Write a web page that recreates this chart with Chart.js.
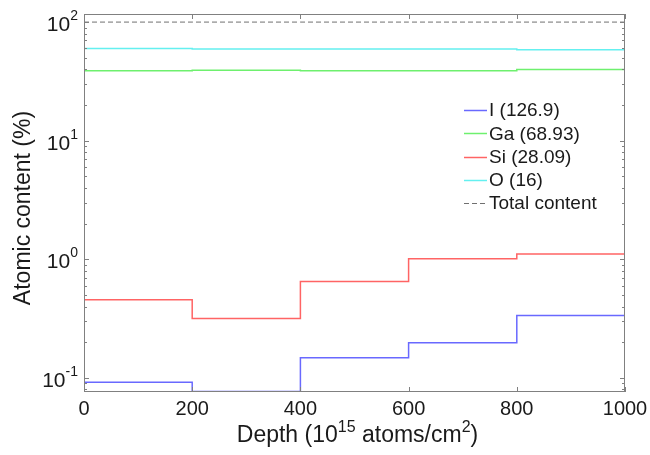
<!DOCTYPE html>
<html lang="en">
<head>
<meta charset="UTF-8">
<title>Atomic content vs depth</title>
<style>
    body { margin: 0; background: white; }
    #wrap { width: 650px; height: 455px; }
</style>
<script src="https://cdn.jsdelivr.net/npm/chart.js"></script>
</head>
<body>
<div id="wrap"><canvas id="depthChart" width="650" height="455"></canvas></div>
<script>
// layer boundaries (10^15 atoms/cm2) and the content of each layer (%)
const depthEdges = [0, 200, 400, 600, 800, 1000];
const iodine   = [0.092, 0.077, 0.148, 0.198, 0.336];
const gallium  = [38.9, 39.3, 38.9, 38.9, 39.9];
const silicon  = [0.457, 0.318, 0.652, 1.01, 1.11];
const oxygen   = [60.0, 59.2, 59.2, 59.2, 58.4];
const total    = [100, 100, 100, 100, 100];
const seriesNames = ['I (126.9)', 'Ga (68.93)', 'Si (28.09)', 'O (16)', 'Total content'];
const xTickValues = [0, 200, 400, 600, 800, 1000];
const yDecades = [-1, 0, 1, 2];

const FONT = 'Arial, "Liberation Sans", sans-serif';
const TEXT = '#1a1a1a';

// each layer value holds from its left edge to the next edge
function stepPoints(values) {
    const pts = values.map((v, i) => ({ x: depthEdges[i], y: v }));
    pts.push({ x: depthEdges[values.length], y: values[values.length - 1] });
    return pts;
}

function drawSuper(ctx, parts, x, y, align) {
    // parts: [text, size, raise]
    let w = 0;
    parts.forEach(p => { ctx.font = p[1] + 'px ' + FONT; w += ctx.measureText(p[0]).width; });
    let cx = align === 'right' ? x - w : align === 'center' ? x - w / 2 : x;
    parts.forEach(p => {
        ctx.font = p[1] + 'px ' + FONT;
        ctx.fillText(p[0], cx, y - p[2]);
        cx += ctx.measureText(p[0]).width;
    });
}

const axesPlugin = {
    id: 'matlabAxes',
    afterDatasetsDraw(chart) {
        const { ctx, chartArea: a, scales: { x, y } } = chart;
        ctx.save();
        ctx.strokeStyle = '#808080';
        ctx.lineWidth = 1;
        ctx.setLineDash([]);
        ctx.strokeRect(a.left + 0.5, a.top + 0.5, a.right - a.left - 1, a.bottom - a.top - 1);

        // x ticks, inside, top and bottom
        ctx.beginPath();
        xTickValues.forEach(v => {
            const px = Math.round(x.getPixelForValue(v)) + 0.5;
            ctx.moveTo(px, a.bottom); ctx.lineTo(px, a.bottom - 5);
            ctx.moveTo(px, a.top); ctx.lineTo(px, a.top + 5);
        });
        // y ticks, major and minor, both sides
        for (let e = -2; e <= 2; e++) {
            for (let m = 1; m <= 9; m++) {
                const v = m * Math.pow(10, e);
                if (v < y.min || v > y.max) continue;
                const py = Math.round(y.getPixelForValue(v)) + 0.5;
                const len = m === 1 ? 5 : 3;
                ctx.moveTo(a.left, py); ctx.lineTo(a.left + len, py);
                ctx.moveTo(a.right, py); ctx.lineTo(a.right - len, py);
            }
        }
        ctx.stroke();

        ctx.fillStyle = TEXT;
        ctx.textBaseline = 'middle';
        ctx.textAlign = 'center';
        ctx.font = '20px ' + FONT;
        xTickValues.forEach(v => ctx.fillText(String(v), x.getPixelForValue(v), a.bottom + 17));

        ctx.textAlign = 'left';
        yDecades.forEach(e => {
            const py = y.getPixelForValue(Math.pow(10, e));
            drawSuper(ctx, [['10', 21, -3], [String(e), 14, 6]], a.left - 6, py, 'right');
        });

        // x title
        ctx.textBaseline = 'alphabetic';
        drawSuper(ctx, [['Depth (10', 23, 0], ['15', 16, 10], [' atoms/cm', 23, 0], ['2', 16, 10], [')', 23, 0]],
            (a.left + a.right) / 2 + 3, 442, 'center');

        // y title
        ctx.translate(30, (a.top + a.bottom) / 2 + 5);
        ctx.rotate(-Math.PI / 2);
        ctx.textAlign = 'center';
        ctx.font = '23px ' + FONT;
        ctx.fillText('Atomic content (%)', 0, 0);
        ctx.restore();

        // legend inside the plot
        ctx.save();
        chart.data.datasets.forEach((ds, i) => {
            const ly = 110 + i * 23.3;
            ctx.strokeStyle = ds.borderColor;
            ctx.lineWidth = ds.borderWidth;
            ctx.setLineDash(ds.borderDash || []);
            ctx.beginPath();
            ctx.moveTo(464, Math.round(ly) + 0.5);
            ctx.lineTo(487, Math.round(ly) + 0.5);
            ctx.stroke();
            ctx.fillStyle = TEXT;
            ctx.font = '19px ' + FONT;
            ctx.textAlign = 'left';
            ctx.textBaseline = 'middle';
            ctx.fillText(ds.label, 489, ly + 1);
        });
        ctx.restore();
    }
};

const lineColors = ['rgb(105,105,255)', 'rgb(110,240,110)', 'rgb(255,100,100)', 'rgb(100,240,240)', '#707070'];
const seriesValues = [iodine, gallium, silicon, oxygen, total];

new Chart(document.getElementById('depthChart'), {
    type: 'line',
    data: {
        datasets: seriesValues.map((vals, i) => ({
            label: seriesNames[i],
            data: stepPoints(vals),
            stepped: true,
            borderColor: lineColors[i],
            borderWidth: i === 4 ? 1 : 1.5,
            borderDash: i === 4 ? [5, 3] : [],
            pointRadius: 0,
            fill: false
        }))
    },
    options: {
        responsive: false,
        animation: false,
        layout: { padding: { left: 84, right: 25, top: 14, bottom: 63 } },
        scales: {
            x: { type: 'linear', min: 0, max: 1000, display: false },
            y: { type: 'logarithmic', min: 0.0762, max: 117, display: false }
        },
        plugins: {
            legend: { display: false },
            tooltip: { enabled: false }
        }
    },
    plugins: [axesPlugin]
});
</script>
</body>
</html>
